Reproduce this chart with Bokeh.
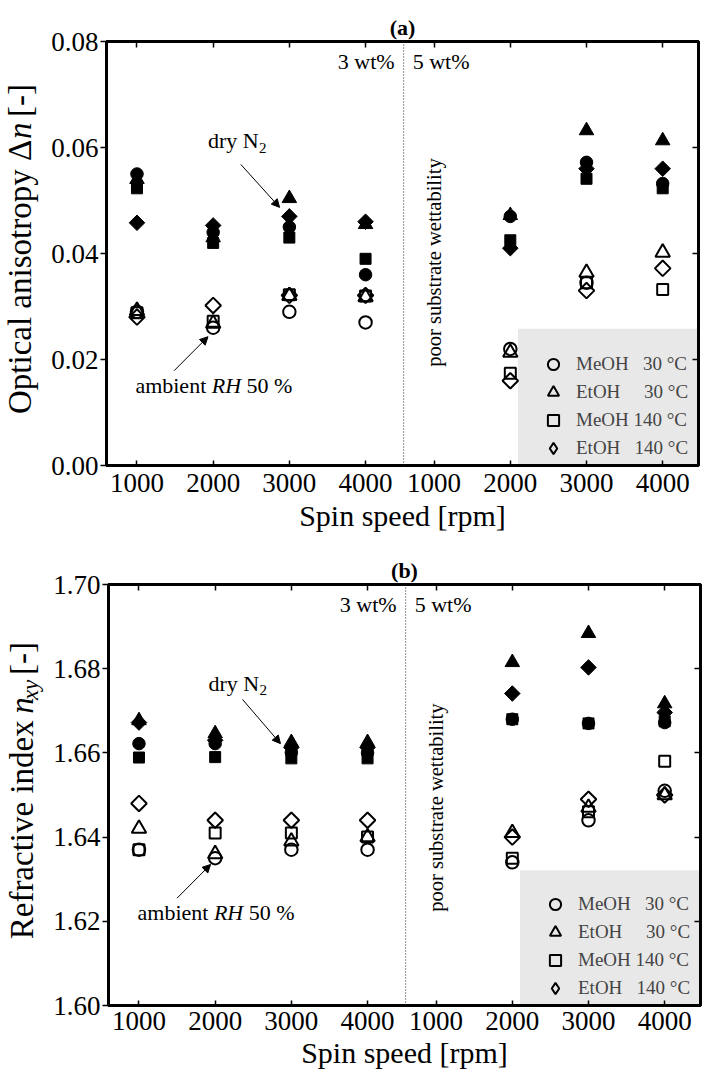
import math
from bokeh.plotting import figure
from bokeh.layouts import column, row
from bokeh.models import (Range1d, FixedTicker, Span, Label, Arrow, NormalHead,
                          BoxAnnotation, Legend, LegendItem, ColumnDataSource,
                          NumeralTickFormatter, LinearAxis)
from bokeh.embed import file_html
from bokeh.resources import INLINE

NaN = float("nan")

# ---------------- data ----------------
speed_labels = ["1000", "2000", "3000", "4000"]          # rpm, repeated for 3 wt% and 5 wt%
conc_labels = ["3 wt%", "5 wt%"]
series_labels = [
    "MeOH\u00a0\u00a0\u00a030\u00a0\u00b0C",
    "EtOH\u00a0\u00a0\u00a0\u00a0\u00a030\u00a0\u00b0C",
    "MeOH\u00a0140\u00a0\u00b0C",
    "EtOH\u00a0\u00a0\u00a0140\u00a0\u00b0C",
]

# (a) optical anisotropy  [3 wt%: 1000..4000, 5 wt%: 1000..4000]
dn_amb_meoh30 = [0.029, 0.026, 0.029, 0.027, NaN, 0.022, 0.0345, NaN]
dn_amb_etoh30 = [0.0292, 0.0268, 0.032, 0.0318, NaN, 0.0213, 0.0364, 0.0402]
dn_amb_meoh140 = [0.0288, 0.0272, 0.0322, 0.032, NaN, 0.0174, 0.0345, 0.0332]
dn_amb_etoh140 = [0.028, 0.0302, 0.0321, 0.0321, NaN, 0.016, 0.033, 0.0372]
dn_dry_meoh30 = [0.055, 0.044, 0.045, 0.036, NaN, 0.047, 0.0572, 0.0532]
dn_dry_etoh30 = [0.054, 0.043, 0.0504, 0.0455, NaN, 0.0472, 0.0632, 0.0613]
dn_dry_meoh140 = [0.0523, 0.042, 0.043, 0.039, NaN, 0.0425, 0.0541, 0.0523]
dn_dry_etoh140 = [0.0458, 0.0453, 0.047, 0.046, NaN, 0.041, 0.056, 0.056]

# (b) refractive index n_xy
n_amb_meoh30 = [1.637, 1.635, 1.637, 1.637, NaN, 1.634, 1.644, 1.651]
n_amb_etoh30 = [1.642, 1.636, 1.639, 1.640, NaN, 1.641, 1.647, 1.650]
n_amb_meoh140 = [1.637, 1.641, 1.641, 1.640, NaN, 1.635, 1.646, 1.658]
n_amb_etoh140 = [1.648, 1.644, 1.644, 1.644, NaN, 1.640, 1.649, 1.650]
n_dry_meoh30 = [1.6622, 1.6622, 1.6601, 1.660, NaN, 1.668, 1.667, 1.6672]
n_dry_etoh30 = [1.6677, 1.6646, 1.6625, 1.6625, NaN, 1.6815, 1.6884, 1.6717]
n_dry_meoh140 = [1.6589, 1.659, 1.6587, 1.6587, NaN, 1.668, 1.667, 1.6675]
n_dry_etoh140 = [1.6672, 1.663, 1.6613, 1.6613, NaN, 1.6741, 1.6803, 1.6696]

dn_ticks = [0.00, 0.02, 0.04, 0.06, 0.08]
n_ticks = [1.60, 1.62, 1.64, 1.66, 1.68, 1.70]

# ---------------- layout constants ----------------
FONT = "Liberation Serif"
X_POS = [1, 2, 3, 4, 4.9, 5.9, 6.9, 7.9]
DIVIDER = 4.5
XR = (0.6, 8.37)
TITLE_W = 48
# (marker, size, angle) for MeOH 30, EtOH 30, MeOH 140, EtOH 140
MARKERS = [("circle", 12.5, 0.0), ("triangle", 14.5, 0.0),
           ("square", 11.0, 0.0), ("square", 11.0, math.pi / 4)]


def ytitle_fig(height, segments, x_mid):
    f = figure(width=TITLE_W, height=height, x_range=Range1d(0, TITLE_W),
               y_range=Range1d(0, height), x_axis_type=None, y_axis_type=None,
               toolbar_location=None, output_backend="svg", min_border=0)
    f.outline_line_color = None
    for txt, yc, align, style, size, dxo in segments:
        f.add_layout(Label(x=x_mid + dxo, y=yc, text=txt, angle=math.pi / 2,
                           text_align=align, text_baseline="middle",
                           text_font=FONT, text_font_style=style,
                           text_font_size=f"{size}px", text_color="black"))
    return f


def mirror_axis(ticks):
    return LinearAxis(ticker=FixedTicker(ticks=ticks, minor_ticks=[]),
                      major_label_text_font_size="0px", major_label_text_color=None,
                      major_label_standoff=0, major_tick_in=6, major_tick_out=0,
                      major_tick_line_width=1.5, axis_line_width=3,
                      minor_tick_line_color=None)


def make_panel(tag, height, b_left, b_top, b_bottom, b_right, yr, yticks,
               amb, dry, legend_top, notes):
    frame_h = height - b_top - b_bottom
    p = figure(width=702 - TITLE_W, height=height, title=tag,
               min_border_left=b_left, min_border_right=b_right,
               min_border_top=b_top, min_border_bottom=b_bottom,
               x_range=Range1d(*XR), y_range=Range1d(*yr),
               output_backend="svg", toolbar_location=None)
    p.grid.visible = False
    p.outline_line_color = "black"
    p.outline_line_width = 3
    p.outline_line_alpha = 1
    p.background_fill_color = "white"
    p.border_fill_color = "white"

    p.title.align = "center"
    p.title.text_font = FONT
    p.title.text_font_size = "22px"
    p.title.text_font_style = "bold"
    p.title.text_color = "black"
    p.title.standoff = 3

    ax = p.xaxis[0]
    ax.ticker = FixedTicker(ticks=X_POS, minor_ticks=[])
    ax.major_label_overrides = {x: s for x, s in zip(X_POS, speed_labels * 2)}
    ax.axis_line_width = 3
    ax.major_tick_in = 5
    ax.major_tick_out = 0
    ax.major_tick_line_width = 1.5
    ax.major_label_standoff = notes["xl_standoff"]
    ax.major_label_text_font = FONT
    ax.major_label_text_font_size = "27px"
    ax.major_label_text_color = "black"
    ax.axis_label = "Spin speed [rpm]"
    ax.axis_label_text_font = FONT
    ax.axis_label_text_font_size = "30px"
    ax.axis_label_text_font_style = "normal"
    ax.axis_label_text_color = "black"
    ax.axis_label_standoff = notes["xt_standoff"]

    ay = p.yaxis[0]
    ay.ticker = FixedTicker(ticks=yticks, minor_ticks=[])
    ay.formatter = NumeralTickFormatter(format="0.00")
    ay.axis_line_width = 3
    ay.major_tick_in = 0
    ay.major_tick_out = 6
    ay.major_tick_line_width = 1.5
    ay.major_label_standoff = 2
    ay.major_label_text_font = FONT
    ay.major_label_text_font_size = "27px"
    ay.major_label_text_color = "black"

    # inward mirror ticks on the right and top frame edges
    p.add_layout(mirror_axis(yticks), "right")
    p.add_layout(mirror_axis(X_POS), "above")

    # legend background box
    p.add_layout(BoxAnnotation(left=6.0, top=legend_top, fill_color="#e8e8e8",
                               fill_alpha=1, line_alpha=0, level="underlay"))

    p.add_layout(Span(location=DIVIDER, dimension="height", line_color="#222222",
                      line_dash="1 2", line_width=1))

    for ys, (mk, sz, ang) in zip(dry, MARKERS):
        src = ColumnDataSource(dict(x=X_POS, y=ys))
        p.scatter("x", "y", source=src, marker=mk, size=sz, angle=ang,
                  line_color="black", fill_color="black", line_width=1)
    legend_renderers = []
    for ys, (mk, sz, ang) in zip(amb, MARKERS):
        src = ColumnDataSource(dict(x=X_POS, y=ys))
        r = p.scatter("x", "y", source=src, marker=mk, size=sz, angle=ang,
                      line_color="black", fill_color=None, line_width=2)
        if ang:
            # legend symbols are drawn unrotated, so the legend uses a diamond stand-in
            r = p.scatter(x=[NaN], y=[NaN], marker="diamond", size=sz,
                          line_color="black", fill_color=None, line_width=2)
        legend_renderers.append(r)

    legend = Legend(items=[LegendItem(label=lab, renderers=[r])
                           for lab, r in zip(series_labels, legend_renderers)],
                    location="bottom_right", orientation="vertical",
                    background_fill_alpha=0, border_line_alpha=0,
                    padding=3, margin=0, spacing=0, glyph_width=30, glyph_height=28,
                    label_height=20, label_width=119, label_standoff=8,
                    label_text_font=FONT, label_text_font_size="19px",
                    label_text_baseline="middle")
    p.add_layout(legend)

    def lab(text, **kw):
        d = dict(text=text, text_font=FONT, text_font_size="22px", text_color="black")
        d.update(kw)
        p.add_layout(Label(**d))

    # concentration labels
    lab(conc_labels[0], x=DIVIDER, y=frame_h - 20, y_units="screen", x_offset=-9,
        text_align="right", text_baseline="middle")
    lab(conc_labels[1], x=DIVIDER, y=frame_h - 20, y_units="screen", x_offset=9,
        text_align="left", text_baseline="middle")
    # poor substrate wettability
    lab("poor substrate wettability", x=X_POS[4], y=notes["poor_y"], angle=math.pi / 2,
        text_align="center", text_baseline="middle", text_font_size="20.5px")
    # dry N2
    dx, dy = notes["dry_xy"]
    lab("dry N", x=dx, y=dy, text_align="left", text_baseline="middle")
    lab("2", x=dx, y=dy, x_offset=51, y_offset=-7, text_align="left",
        text_baseline="middle", text_font_size="15px")
    (x0, y0), (x1, y1) = notes["dry_arrow"]
    p.add_layout(Arrow(end=NormalHead(size=8, fill_color="black", line_color="black", line_width=1),
                       x_start=x0, y_start=y0, x_end=x1, y_end=y1, line_width=1, line_color="black"))
    # ambient RH 50 %
    ax_, ay_ = notes["amb_xy"]
    lab("ambient", x=ax_, y=ay_, text_align="left", text_baseline="middle")
    lab("RH", x=ax_, y=ay_, x_offset=76.4, text_align="left", text_baseline="middle",
        text_font_style="italic")
    lab("50\u00a0%", x=ax_, y=ay_, x_offset=111.2, text_align="left", text_baseline="middle")
    (x0, y0), (x1, y1) = notes["amb_arrow"]
    p.add_layout(Arrow(end=NormalHead(size=8, fill_color="black", line_color="black", line_width=1),
                       x_start=x0, y_start=y0, x_end=x1, y_end=y1, line_width=1, line_color="black"))
    return p


FS = 33   # y-title font size
SUB = 23  # subscript size

pa = make_panel(
    "(a)", 540, 103 - TITLE_W, 41, 75, 4, (0.0, 0.08), dn_ticks,
    [dn_amb_meoh30, dn_amb_etoh30, dn_amb_meoh140, dn_amb_etoh140],
    [dn_dry_meoh30, dn_dry_etoh30, dn_dry_meoh140, dn_dry_etoh140],
    0.0258,
    dict(poor_y=0.0383, dry_xy=(1.932, 0.0613),
         dry_arrow=((2.363, 0.0568), (2.872, 0.0487)),
         amb_xy=(0.979, 0.0151), amb_arrow=((1.488, 0.0179), (1.932, 0.0243)),
         xl_standoff=8, xt_standoff=4),
)
# junction between "...Δ" and the italic n
ja = (540 - 253) - (8.278 + 0.5 + 1.25) * FS / 2 + 8.278 * FS + 20
ta = ytitle_fig(540, [("Optical anisotropy \u0394", ja, "right", "normal", FS, 0),
                      ("n", ja + 1, "left", "italic", FS, 0),
                      ("\u00a0[-]", ja + 0.5 * FS + 2, "left", "normal", FS, 0)], 19)

pb = make_panel(
    "(b)", 537, 108 - TITLE_W, 44, 72, 2, (1.60, 1.70), n_ticks,
    [n_amb_meoh30, n_amb_etoh30, n_amb_meoh140, n_amb_etoh140],
    [n_dry_meoh30, n_dry_etoh30, n_dry_meoh140, n_dry_etoh140],
    1.6321,
    dict(poor_y=1.647, dry_xy=(1.912, 1.6765),
         dry_arrow=((2.359, 1.6727), (2.857, 1.6622)),
         amb_xy=(0.981, 1.622), amb_arrow=((1.50, 1.6255), (1.94, 1.6335)),
         xl_standoff=6, xt_standoff=3),
)
jb = (537 - 254.5) - (6.637 * FS + 0.25 * FS + 0.5 * FS + 0.888 * SUB + 1.25 * FS) / 2 \
    + 6.637 * FS + 15
yn = jb + 0.25 * FS
yxy = yn + 0.5 * FS + 1
ytail = yxy + 0.888 * SUB + 1
tb = ytitle_fig(537, [("Refractive index", jb, "right", "normal", FS, 0),
                      ("n", yn, "left", "italic", FS, 0),
                      ("xy", yxy, "left", "italic", SUB, 9),
                      ("\u00a0[-]", ytail, "left", "normal", FS, 0)], 21)

layout = column(row(ta, pa, spacing=0), row(tb, pb, spacing=0), spacing=0)
open("out.html", "w").write(file_html(layout, INLINE))
